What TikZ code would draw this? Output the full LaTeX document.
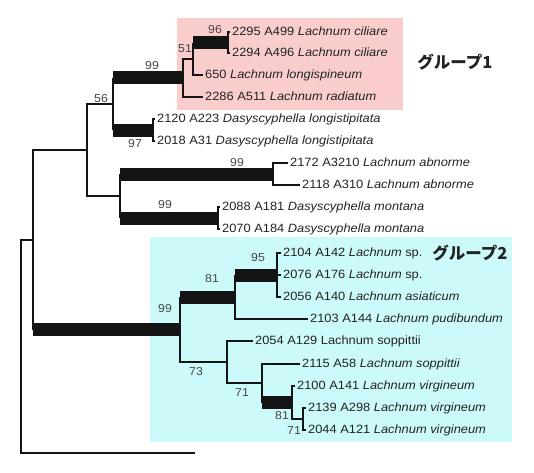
\documentclass[tikz,border=0pt]{standalone}
\usepackage{fontspec}
\setmainfont{Liberation Sans}[FakeStretch=1.07]
\newfontfamily\jp{Noto Sans CJK JP}
\definecolor{pinkbg}{RGB}{250,205,205}
\definecolor{cyanbg}{RGB}{204,250,250}
\definecolor{ink}{RGB}{20,20,20}
\definecolor{txt}{RGB}{35,35,35}
\definecolor{lab}{RGB}{70,70,70}
\tikzset{
  br/.style={line width=2pt, draw=ink},
  tb/.style={line width=13pt, draw=ink, line cap=butt},
  leaf/.style={anchor=west, inner xsep=2pt, inner ysep=0pt, text=txt,
    font=\fontsize{12}{14}\selectfont, text height=8.5pt, text depth=2.5pt},
  bs/.style={inner sep=0pt, text=lab, font=\fontsize{11.5}{13}\selectfont},
  grp/.style={inner sep=0pt, text=txt, font=\jp\bfseries\fontsize{16.5}{18}\selectfont},
}
\begin{document}
\begin{tikzpicture}[x=1pt,y=-1pt]
\useasboundingbox (0,0) rectangle (534,472);
% backgrounds
\fill[pinkbg] (177,18) rectangle (403,110);
\fill[cyanbg] (150,237) rectangle (512,442);
% leaves
\node[leaf] (l1) at (230,32) {2295 A499 \textit{Lachnum ciliare}};
\node[leaf] (l2) at (230,53) {2294 A496 \textit{Lachnum ciliare}};
\node[leaf] (l3) at (203,75) {650 \textit{Lachnum longispineum}};
\node[leaf] (l4) at (203,97) {2286 A511 \textit{Lachnum radiatum}};
\node[leaf] (l5) at (155,119) {2120 A223 \textit{Dasyscyphella longistipitata}};
\node[leaf] (l6) at (155,141) {2018 A31 \textit{Dasyscyphella longistipitata}};
\node[leaf] (l7) at (288,163) {2172 A3210 \textit{Lachnum abnorme}};
\node[leaf] (l8) at (300,185) {2118 A310 \textit{Lachnum abnorme}};
\node[leaf] (l9) at (220,207) {2088 A181 \textit{Dasyscyphella montana}};
\node[leaf] (l10) at (220,229) {2070 A184 \textit{Dasyscyphella montana}};
\node[leaf] (l11) at (281,253) {2104 A142 \textit{Lachnum} sp.};
\node[leaf] (l12) at (281,275) {2076 A176 \textit{Lachnum} sp.};
\node[leaf] (l13) at (281,297) {2056 A140 \textit{Lachnum asiaticum}};
\node[leaf] (l14) at (308,319) {2103 A144 \textit{Lachnum pudibundum}};
\node[leaf] (l15) at (253,341) {2054 A129 Lachnum soppittii};
\node[leaf] (l16) at (300,364) {2115 A58 \textit{Lachnum soppittii}};
\node[leaf] (l17) at (295,386) {2100 A141 \textit{Lachnum virgineum}};
\node[leaf] (l18) at (306,408) {2139 A298 \textit{Lachnum virgineum}};
\node[leaf] (l19) at (306,430) {2044 A121 \textit{Lachnum virgineum}};
% internal nodes
\coordinate (S) at (228,42.5);
\coordinate (Q) at (193,58.75);
\coordinate (P) at (183,77.9);
\coordinate (E) at (153,130);
\coordinate (C) at (113,104);
\coordinate (F) at (273,174);
\coordinate (H) at (218,218);
\coordinate (D) at (120,196);
\coordinate (B) at (87,150);
\coordinate (K) at (277,275);
\coordinate (I) at (235,297);
\coordinate (N) at (303,419);
\coordinate (M) at (292,402.5);
\coordinate (L) at (262,383);
\coordinate (J) at (227,362);
\coordinate (G) at (180,329.5);
\coordinate (A) at (33,240);
\coordinate (R) at (21,346.5);
\coordinate (O) at (195,453);
% leaf branches
\draw[br] (S) |- (l1.west);
\draw[br] (S) |- (l2.west);
\draw[br] (Q) |- (l3.west);
\draw[br] (P) |- (l4.west);
\draw[br] (E) |- (l5.west);
\draw[br] (E) |- (l6.west);
\draw[br] (F) |- (l7.west);
\draw[br] (F) |- (l8.west);
\draw[br] (H) |- (l9.west);
\draw[br] (H) |- (l10.west);
\draw[br] (K) |- (l11.west);
\draw[br] (K) |- (l12.west);
\draw[br] (K) |- (l13.west);
\draw[br] (I) |- (l14.west);
\draw[br] (J) |- (l15.west);
\draw[br] (L) |- (l16.west);
\draw[br] (M) |- (l17.west);
\draw[br] (N) |- (l18.west);
\draw[br] (N) |- (l19.west);
% thin internal branches
\draw[br] (P) |- (Q);
\draw[br] (B) |- (C);
\draw[br] (B) |- (D);
\draw[br] (A) |- (B);
\draw[br] (R) |- (A);
\draw[br] (R) |- (O);
\draw[br] (G) |- (J);
\draw[br] (J) |- (L);
\draw[br] (M) |- (N);
% thick internal branches
\foreach \p/\c in {Q/S, C/P, C/E, D/F, D/H, A/G, G/I, I/K, L/M}{
  \draw[br] (\p) -- (\p |- \c);
  \draw[tb] (\p |- \c) -- (\c);
}
% bootstrap values
\node[bs] (b1) at (215,30) {96};
\node[bs] (b2) at (185,49) {51};
\node[bs] (b3) at (152,66) {99};
\node[bs] (b4) at (135,144) {97};
\node[bs] (b5) at (101,99) {56};
\node[bs] (b6) at (237,163) {99};
\node[bs] (b7) at (165,205) {99};
\node[bs] (b8) at (165,309) {99};
\node[bs] (b9) at (212,279) {81};
\node[bs] (b10) at (258,258) {95};
\node[bs] (b11) at (196,372) {73};
\node[bs] (b12) at (242,393) {71};
\node[bs] (b13) at (282,416) {81};
\node[bs] (b14) at (294,431) {71};
% group labels
\node[grp] (g1) at (455,62) {グループ1};
\node[grp] (g2) at (470,253) {グループ2};
\end{tikzpicture}
\end{document}
